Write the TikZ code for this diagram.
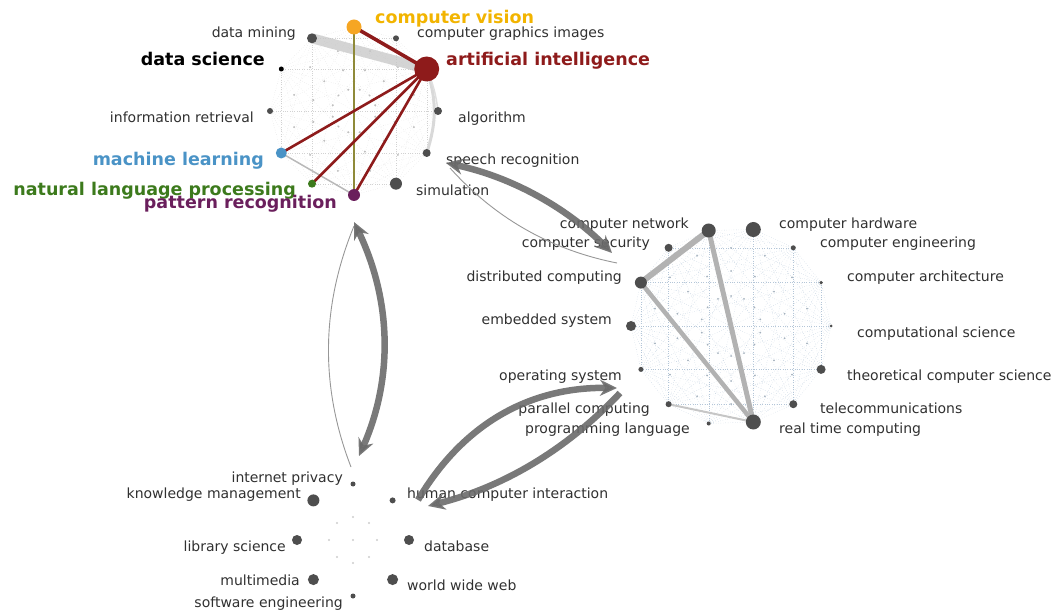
\documentclass[tikz,border=0pt]{standalone}
\usepackage{fontspec}
\setmainfont{DejaVu Sans}
\usetikzlibrary{arrows.meta,backgrounds,calc}

\definecolor{nodegray}{HTML}{4E4E4E}
\definecolor{labgray}{HTML}{303030}
\definecolor{aired}{HTML}{8E1B1B}
\definecolor{cvorange}{HTML}{F6A623}
\definecolor{cvlabel}{HTML}{F2B400}
\definecolor{mlblue}{HTML}{4A93C6}
\definecolor{nlpgreen}{HTML}{3C7A1C}
\definecolor{prpurple}{HTML}{6A1F5C}
\definecolor{flowgray}{HTML}{6A6A6A}
\definecolor{meshblue}{HTML}{B4C6D8}

\tikzset{
  vtx/.style={circle,inner sep=0pt,fill=nodegray},
  lab/.style={font=\fontsize{14}{16}\selectfont,text=labgray,inner sep=0pt,yshift=-3pt},
  blab/.style={font=\fontsize{17.5}{20}\selectfont\bfseries,inner sep=0pt,yshift=-3pt},
  meshA/.style={gray!35,line width=0.35pt,dotted},
  meshB/.style={meshblue,line width=0.4pt,dotted},
  innerdot/.style={fill=gray!50},
  redlink/.style={aired,line width=2.6pt},
  graylink/.style={gray!60,line width=4.5pt},
  flow/.style={flowgray,line width=6.5pt,opacity=0.9},
  thinflow/.style={flowgray!70,line width=0.9pt},
  head/.style={-{Stealth[length=17pt,width=16pt]}},
  heads/.style={{Stealth[length=17pt,width=16pt]}-{Stealth[length=17pt,width=16pt]}},
}

\begin{document}
\begin{tikzpicture}[x=1pt,y=-1pt]
\useasboundingbox (0,0) rectangle (1058,612);

% ---------- AI cluster (12 topics on a ring) ----------
\coordinate (c1) at (354,111);
\node[vtx,fill=cvorange,minimum size=15pt] (CV)  at (354,27) {};
\node[vtx,minimum size=6pt]               (CGI) at (396,38.3) {};
\node[vtx,fill=aired,minimum size=25pt]   (AI)  at (426.7,69) {};
\node[vtx,minimum size=8pt]               (ALG) at (438,111) {};
\node[vtx,minimum size=8pt]               (SR)  at (426.7,153) {};
\node[vtx,minimum size=12pt]              (SIM) at (396,183.7) {};
\node[vtx,fill=prpurple,minimum size=12pt] (PR) at (354,195) {};
\node[vtx,fill=nlpgreen,minimum size=8pt] (NLP) at (312,183.7) {};
\node[vtx,fill=mlblue,minimum size=11pt]  (ML)  at (281.3,153) {};
\node[vtx,minimum size=6pt]               (IR)  at (270,111) {};
\node[vtx,fill=black,minimum size=5pt]    (DS)  at (281.3,69) {};
\node[vtx,minimum size=10pt]              (DM)  at (312,38.3) {};

% ---------- systems cluster (14 topics on a ring) ----------
\coordinate (c2) at (731,326);
\node[vtx,minimum size=3pt]  (CSC) at (831,326) {};
\node[vtx,minimum size=3.6pt] (CAR) at (821.1,282.6) {};
\node[vtx,minimum size=5pt]  (CEN) at (793.3,247.8) {};
\node[vtx,minimum size=15pt] (CHW) at (753.3,229.5) {};
\node[vtx,minimum size=14pt] (CNW) at (708.7,230.5) {};
\node[vtx,minimum size=8pt]  (CSE) at (668.6,247.8) {};
\node[vtx,minimum size=12pt] (DC)  at (640.9,282.6) {};
\node[vtx,minimum size=10pt] (ES)  at (631,326) {};
\node[vtx,minimum size=5pt]  (OS)  at (640.9,369.4) {};
\node[vtx,minimum size=6pt]  (PC)  at (668.6,404.2) {};
\node[vtx,minimum size=4pt]  (PL)  at (708.7,423.5) {};
\node[vtx,minimum size=15pt] (RTC) at (753.3,422) {};
\node[vtx,minimum size=8pt]  (TEL) at (793.3,404.2) {};
\node[vtx,minimum size=9pt]  (TCS) at (821.1,369.4) {};

% ---------- information cluster (8 topics on a ring) ----------
\coordinate (c3) at (353,540);
\node[vtx,minimum size=5pt]  (IP)  at (353,484) {};
\node[vtx,minimum size=6pt]  (HCI) at (392.6,500.4) {};
\node[vtx,minimum size=10pt] (DB)  at (409,540) {};
\node[vtx,minimum size=11pt] (WWW) at (392.6,579.6) {};
\node[vtx,minimum size=5pt]  (SE)  at (353,596) {};
\node[vtx,minimum size=11pt] (MM)  at (313.4,579.6) {};
\node[vtx,minimum size=10pt] (LS)  at (297,540) {};
\node[vtx,minimum size=12pt] (KM)  at (313.4,500.4) {};

% ---------- faint internal structure and strong links ----------
\begin{scope}[on background layer]
  \foreach \u [count=\i] in {CV,CGI,AI,ALG,SR,SIM,PR,NLP,ML,IR,DS,DM}{
    \foreach \v [count=\j] in {CV,CGI,AI,ALG,SR,SIM,PR,NLP,ML,IR,DS,DM}{
      \ifnum\i<\j \draw[meshA] (\u.center) -- (\v.center); \fi
    }
  }
  \foreach \r in {22,42,62}{
    \foreach \k in {0,...,11}{
      \fill[innerdot] ($(c1)+(\k*30+15:\r)$) circle[radius=1.1pt];
    }
  }
  \foreach \u [count=\i] in {CSC,CAR,CEN,CHW,CNW,CSE,DC,ES,OS,PC,PL,RTC,TEL,TCS}{
    \foreach \v [count=\j] in {CSC,CAR,CEN,CHW,CNW,CSE,DC,ES,OS,PC,PL,RTC,TEL,TCS}{
      \ifnum\i<\j \draw[meshB] (\u.center) -- (\v.center); \fi
    }
  }
  \foreach \r in {30,55,78}{
    \foreach \k in {0,...,13}{
      \fill[meshblue!70!gray] ($(c2)+(\k*25.714+12.857:\r)$) circle[radius=1pt];
    }
  }
  \foreach \p in {(353,517),(337,523),(369,523),(329,540),(353,540),(377,540),(337,557),(369,557),(353,563)}{
    \fill[gray!40] \p circle[radius=1.2pt];
  }

  % AI cluster links
  \draw[gray!45,line width=10pt,opacity=0.75] (DM.center) -- (AI.center);
  \draw[gray!30,line width=3pt] (AI.center) to[bend left=18] (SR.center);
  \draw[gray!25,line width=1.5pt] (AI.center) to[bend left=8] (ALG.center);
  \draw[olive!60!gray,line width=1.2pt] (CV.center) -- (PR.center);
  \draw[gray!55,line width=1.5pt] (ML.center) -- (PR.center);
  \draw[redlink,line width=3.6pt] (AI.center) -- (CV.center);
  \draw[redlink] (AI.center) -- (ML.center);
  \draw[redlink] (AI.center) -- (NLP.center);
  \draw[redlink] (AI.center) -- (PR.center);

  % systems cluster links
  \draw[graylink,line width=6pt] (DC.center) -- (CNW.center);
  \draw[graylink,line width=5pt] (CNW.center) -- (RTC.center);
  \draw[graylink,line width=4.5pt] (DC.center) -- (RTC.center);
  \draw[gray!45,line width=2pt] (PC.center) -- (RTC.center);
\end{scope}

% ---------- topic labels ----------
\node[blab,text=cvlabel,anchor=mid west] (lCV) at (375,18) {computer vision};
\node[lab,anchor=mid west]  (lCGI) at (417,32) {computer graphics images};
\node[lab,anchor=mid east]  (lDM)  at (296,32) {data mining};
\node[blab,text=black,anchor=mid east] (lDS) at (265,60) {data science};
\node[blab,text=aired,anchor=mid west] (lAI) at (446,60) {artificial intelligence};
\node[lab,anchor=mid east]  (lIR)  at (254,117) {information retrieval};
\node[lab,anchor=mid west]  (lALG) at (458,117) {algorithm};
\node[blab,text=mlblue,anchor=mid east] (lML) at (264,160) {machine learning};
\node[lab,anchor=mid west]  (lSR)  at (446,159) {speech recognition};
\node[blab,text=nlpgreen,anchor=mid east] (lNLP) at (296,190) {natural language processing};
\node[blab,text=prpurple,anchor=mid east] (lPR) at (337,203) {pattern recognition};
\node[lab,anchor=mid west]  (lSIM) at (416,190) {simulation};

\node[lab,anchor=mid east] (lCNW) at (689,223) {computer network};
\node[lab,anchor=mid east] (lCSE) at (650,242) {computer security};
\node[lab,anchor=mid east] (lDC)  at (622,276) {distributed computing};
\node[lab,anchor=mid east] (lES)  at (612,319) {embedded system};
\node[lab,anchor=mid east] (lOS)  at (622,375) {operating system};
\node[lab,anchor=mid east] (lPC)  at (650,408) {parallel computing};
\node[lab,anchor=mid east] (lPL)  at (690,428) {programming language};
\node[lab,anchor=mid west] (lCHW) at (779,223) {computer hardware};
\node[lab,anchor=mid west] (lCEN) at (820,242) {computer engineering};
\node[lab,anchor=mid west] (lCAR) at (847,276) {computer architecture};
\node[lab,anchor=mid west] (lCSC) at (857,332) {computational science};
\node[lab,anchor=mid west] (lTCS) at (847,375) {theoretical computer science};
\node[lab,anchor=mid west] (lTEL) at (820,408) {telecommunications};
\node[lab,anchor=mid west] (lRTC) at (779,428) {real time computing};

\node[lab,anchor=mid east] (lIP)  at (343,477) {internet privacy};
\node[lab,anchor=mid east] (lKM)  at (301,493) {knowledge management};
\node[lab,anchor=mid west] (lHCI) at (407,493) {human computer interaction};
\node[lab,anchor=mid east] (lLS)  at (286,546) {library science};
\node[lab,anchor=mid west] (lDB)  at (424,546) {database};
\node[lab,anchor=mid east] (lMM)  at (300,580) {multimedia};
\node[lab,anchor=mid east] (lSE)  at (343,602) {software engineering};
\node[lab,anchor=mid west] (lWWW) at (407,585) {world wide web};

% ---------- flows between the clusters ----------
\coordinate (fA1) at (612,253);
\coordinate (fA2) at (446,163);
\coordinate (fB1) at (450,168);
\coordinate (fB2) at (617,263);
\coordinate (fC1) at (359,456);
\coordinate (fC2) at (354,222);
\coordinate (fD1) at (354,226);
\coordinate (fD2) at (351,467);
\coordinate (fE1) at (418,500);
\coordinate (fE2) at (617,388);
\coordinate (fF1) at (620,393);
\coordinate (fF2) at (428,506);

\draw[thinflow] (fB1) .. controls (495.1,218.2) and (550.8,249.9) .. (fB2);
\draw[flow,heads] (fA1) .. controls (565.5,206.6) and (510.2,176.6) .. (fA2);
\draw[thinflow] (fD1) .. controls (321,306.3) and (320,386.7) .. (fD2);
\draw[flow,heads] (fC1) .. controls (393.3,378.3) and (391.7,300.7) .. (fC2);
\draw[flow,head] (fE1) .. controls (462.7,424.3) and (529.1,386.9) .. (fE2);
\draw[flow,head] (fF1) .. controls (567.1,449.3) and (503.8,486.9) .. (fF2);
\end{tikzpicture}
\end{document}
